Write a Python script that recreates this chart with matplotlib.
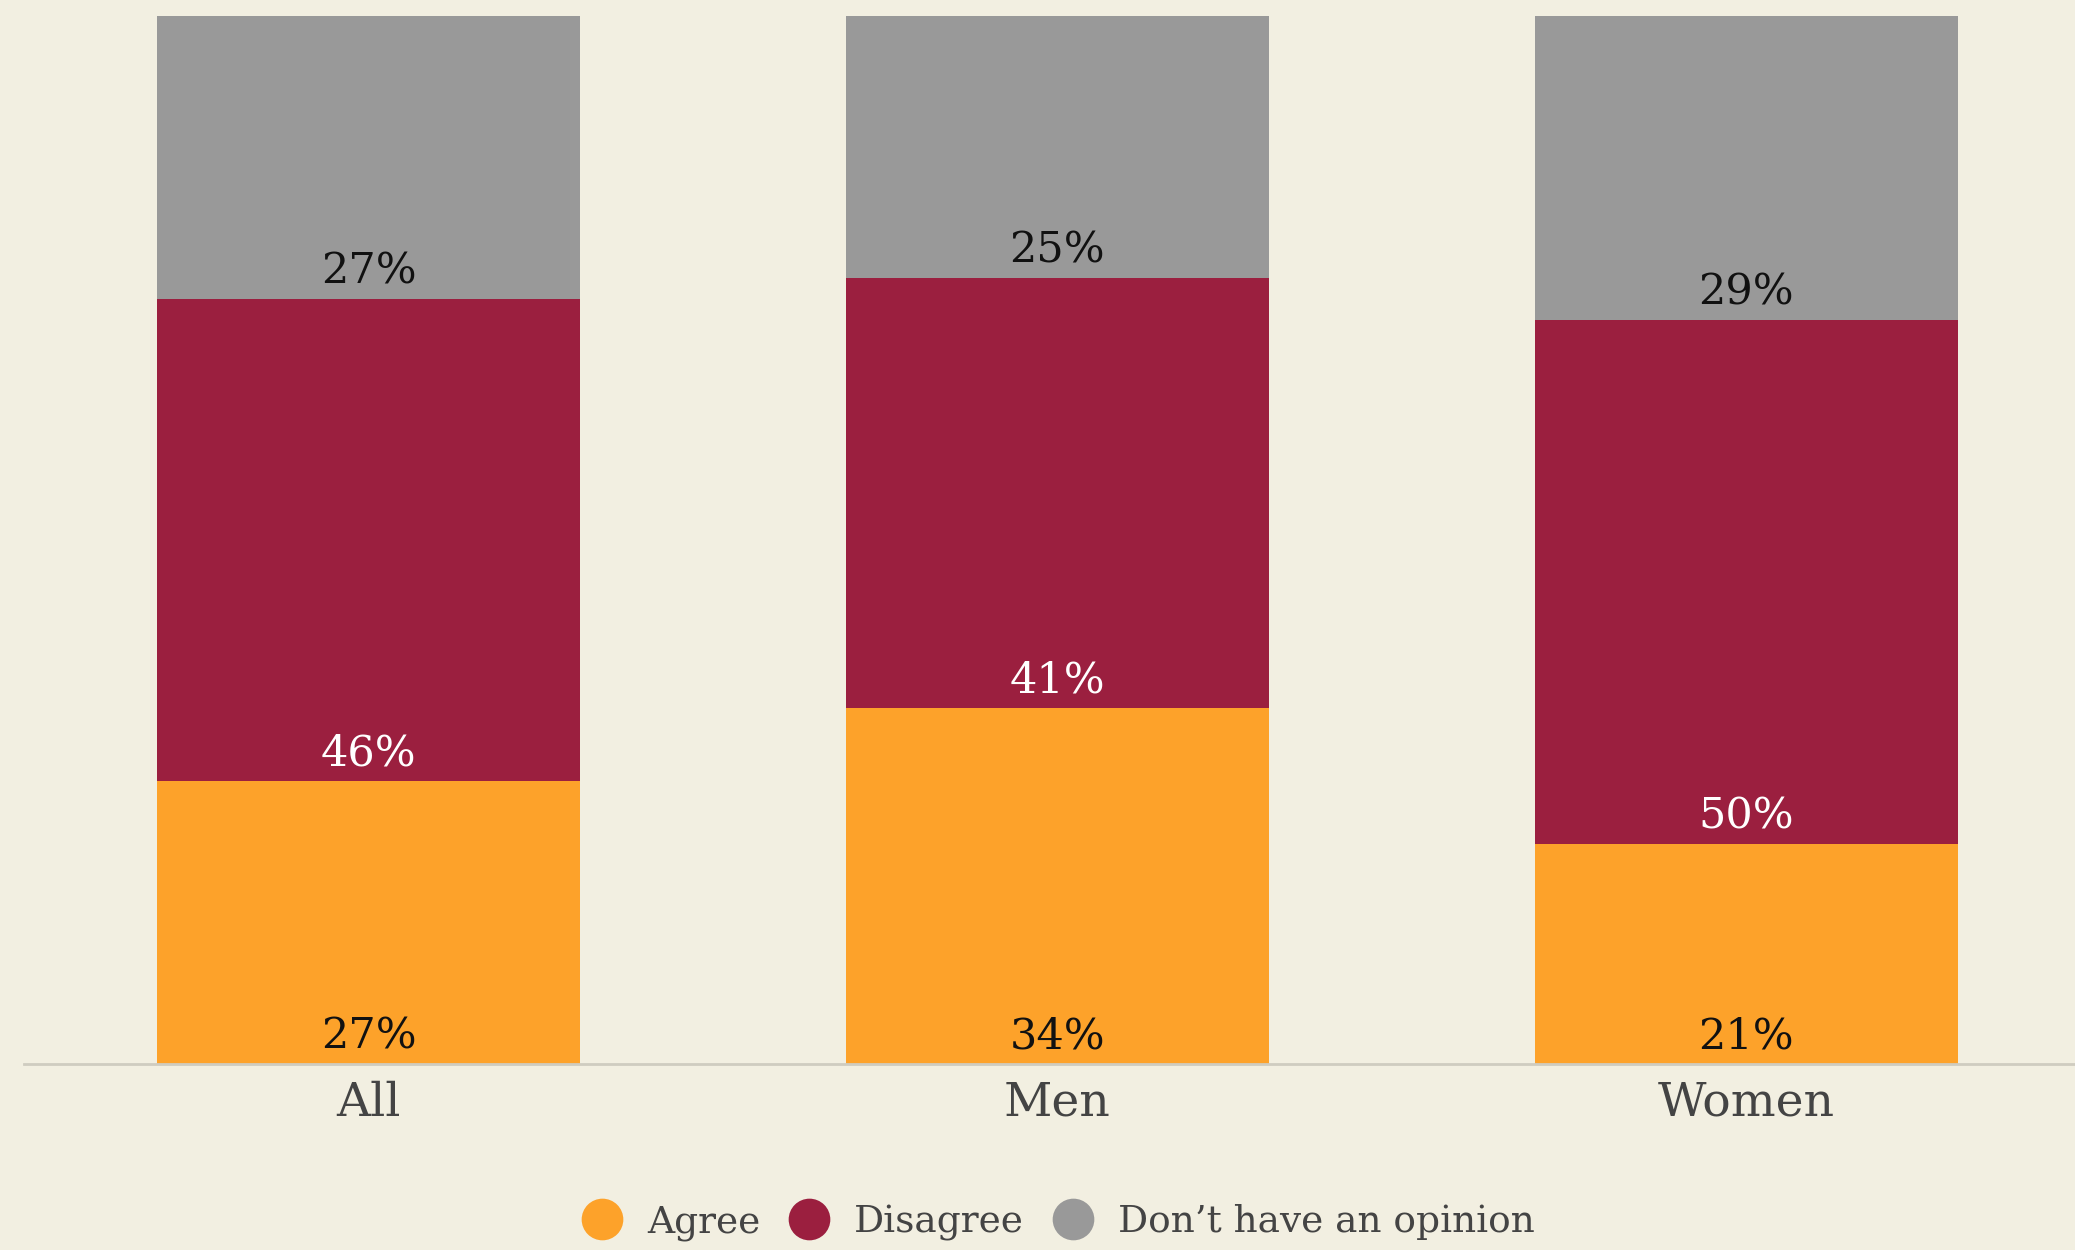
import numpy as np
import matplotlib as mpl
mpl.use('Agg')
import matplotlib.pyplot as plt
from matplotlib.lines import Line2D

# data
groups = ['All', 'Men', 'Women']
agree = [27, 34, 21]
disagree = [46, 41, 50]
no_opinion = [27, 25, 29]
series_names = ['Agree', 'Disagree', 'Don\u2019t have an opinion']

bg = '#f2efe1'
colors = ['#fda22a', '#9b1f3f', '#999999']
label_colors = ['#111111', 'white', '#111111']

plt.rcParams['font.family'] = ['DejaVu Serif']

fig = plt.figure(figsize=(20.75, 12.5), dpi=100, facecolor=bg)
ax = fig.add_axes([24 / 2075, 186 / 1250, 1 - 24 / 2075, 1048 / 1250])
ax.set_facecolor(bg)

x = np.arange(len(groups))
width = 0.615
bottom = np.zeros(len(groups))
for vals, col, lcol in zip([agree, disagree, no_opinion], colors, label_colors):
    vals = np.array(vals, dtype=float)
    ax.bar(x, vals, width, bottom=bottom, color=col, edgecolor='none')
    for xi, b, v in zip(x, bottom, vals):
        ax.text(xi, b + 0.6, f'{int(v)}%', ha='center', va='bottom',
                fontsize=31, color=lcol)
    bottom += vals

ax.set_xlim(-0.5, 2.477)
ax.set_ylim(0, 100)
ax.set_yticks([])
ax.set_xticks(x)
ax.set_xticklabels(groups, fontsize=34, color='#444444')
ax.tick_params(axis='x', length=0, pad=12)
for s in ['top', 'right', 'left']:
    ax.spines[s].set_visible(False)
ax.spines['bottom'].set_color('#cfccc0')
ax.spines['bottom'].set_linewidth(2)

# legend
handles = [Line2D([0], [0], marker='o', ls='none', markersize=30,
                  markerfacecolor=c, markeredgecolor='none') for c in colors]
leg = fig.legend(handles, series_names, loc='center', bbox_to_anchor=(0.51, 0.022),
                 ncol=3, frameon=False, fontsize=27, handletextpad=0.65,
                 columnspacing=0.75, handlelength=1.1)
for t in leg.get_texts():
    t.set_color('#444444')

fig.savefig('out.png', facecolor=bg)
plt.close()
